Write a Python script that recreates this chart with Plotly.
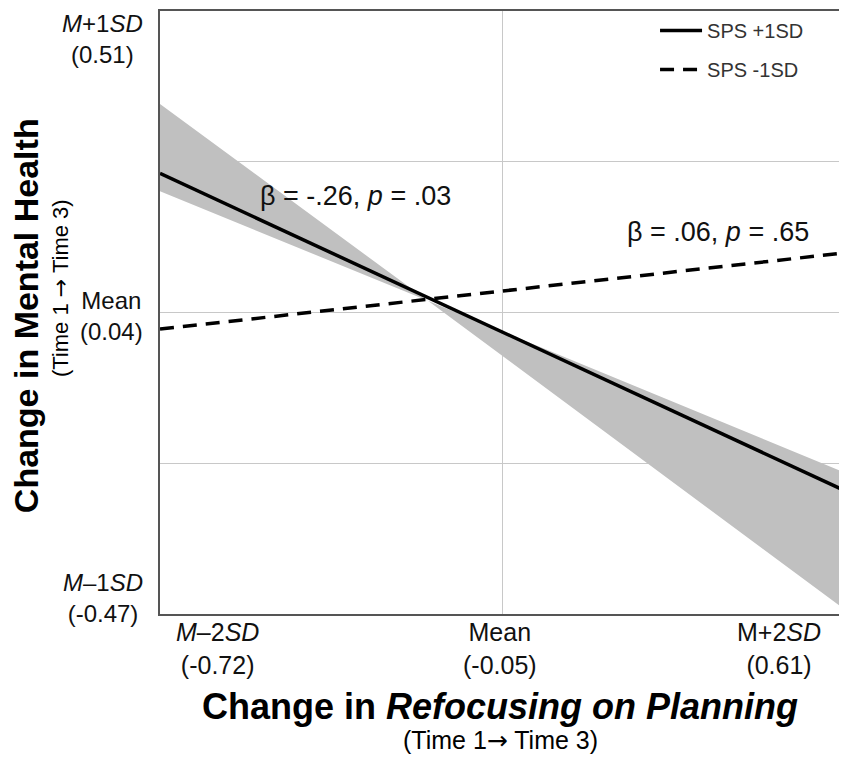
import plotly.graph_objects as go

# simple slopes of Refocusing on Planning predicting change in mental health
x_pts = [-0.72, 0.61]
sps_high = [0.246, -0.266]   # SPS +1SD
sps_low = [-0.007, 0.116]    # SPS -1SD

# confidence band around the SPS +1SD line
band_x = [-0.72, -0.196, 0.61]
band_upper = [0.359, 0.039, -0.237]
band_lower = [0.217, 0.039, -0.457]

x_range = [-0.72, 0.61]
y_range = [-0.47, 0.51]
x_grid = [-0.05]
y_grid = [0.265, 0.02, -0.225]

x_labels = ["<i>M</i>–2<i>SD</i><br>(-0.72)", "Mean<br>(-0.05)", "M+2<i>SD</i><br>(0.61)"]
y_labels = ["<i>M</i>+1<i>SD</i><br>(0.51)", "Mean<br>(0.04)", "<i>M</i>–1<i>SD</i><br>(-0.47)"]
beta_text = ["β = -.26, <i>p</i> = .03", "β = .06, <i>p</i> = .65"]
beta_x = [-0.337, 0.371]
beta_y = [0.209, 0.151]

FONT = "Liberation Sans, Arial, sans-serif"
ARROW = '<span style="font-family:DejaVu Sans">→</span>'

fig = go.Figure()

fig.add_trace(go.Scatter(
    x=band_x + band_x[::-1], y=band_upper + band_lower[::-1],
    fill="toself", fillcolor="rgb(192,192,192)", line=dict(width=0),
    mode="lines", showlegend=False, hoverinfo="skip"))

fig.add_trace(go.Scatter(
    x=x_pts, y=sps_high, mode="lines", name="SPS +1SD",
    line=dict(color="black", width=3.5), legendgroup="a"))

fig.add_trace(go.Scatter(
    x=x_pts, y=sps_low, mode="lines", name="SPS -1SD",
    line=dict(color="black", width=3.5, dash="14px,9px"), legendgroup="b"))

annos = []
for txt, xp in zip(x_labels, [0.084, 0.5, 0.91]):
    annos.append(dict(x=xp, y=0, xref="paper", yref="paper", text=txt,
                      showarrow=False, yanchor="top", xanchor="center", yshift=-2,
                      font=dict(size=25, color="#111")))

for txt, xp, yp in zip(y_labels, [-0.084, -0.071, -0.084], [0.953, 0.494, 0.026]):
    annos.append(dict(x=xp, y=yp, xref="paper", yref="paper", text=txt,
                      showarrow=False, xanchor="center", yanchor="middle",
                      font=dict(size=24, color="#111")))

for txt, bx, by in zip(beta_text, beta_x, beta_y):
    annos.append(dict(x=bx, y=by, xref="x", yref="y", text=txt, showarrow=False,
                      xanchor="center", yanchor="middle",
                      font=dict(size=27, color="#111")))

annos += [
    dict(x=-0.197, y=0.494, xref="paper", yref="paper", textangle=-90,
         text="<b>Change in Mental Health</b>", showarrow=False,
         xanchor="center", yanchor="middle",
         font=dict(size=34, color="black")),
    dict(x=-0.146, y=0.54, xref="paper", yref="paper", textangle=-90,
         text="(Time 1 " + ARROW + " Time 3)", showarrow=False,
         xanchor="center", yanchor="middle",
         font=dict(size=22, color="black")),
    dict(x=0.5, y=-0.154, xref="paper", yref="paper",
         text="<b>Change in <i>Refocusing on Planning</i></b>", showarrow=False,
         xanchor="center", yanchor="middle",
         font=dict(size=36, color="black")),
    dict(x=0.5, y=-0.21, xref="paper", yref="paper",
         text="(Time 1" + ARROW + " Time 3)", showarrow=False,
         xanchor="center", yanchor="middle",
         font=dict(size=25, color="black")),
]

axis_common = dict(showline=True, mirror=True, linecolor="#555", linewidth=1.5,
                   gridcolor="#c8c8c8", gridwidth=1, zeroline=False,
                   showticklabels=False, ticks="")

fig.update_layout(
    width=847, height=761,
    margin=dict(l=152, r=15, t=1, b=155),
    paper_bgcolor="white", plot_bgcolor="white",
    font=dict(family=FONT),
    xaxis=dict(range=x_range, tickvals=x_grid, **axis_common),
    yaxis=dict(range=y_range, tickvals=y_grid, **axis_common),
    annotations=annos,
    legend=dict(x=0.728, y=1.0, xanchor="left", yanchor="top",
                bgcolor="rgba(0,0,0,0)", font=dict(size=20, color="#333"),
                traceorder="grouped", tracegroupgap=10, itemwidth=42),
    showlegend=True,
)

fig.write_html("out.html")
